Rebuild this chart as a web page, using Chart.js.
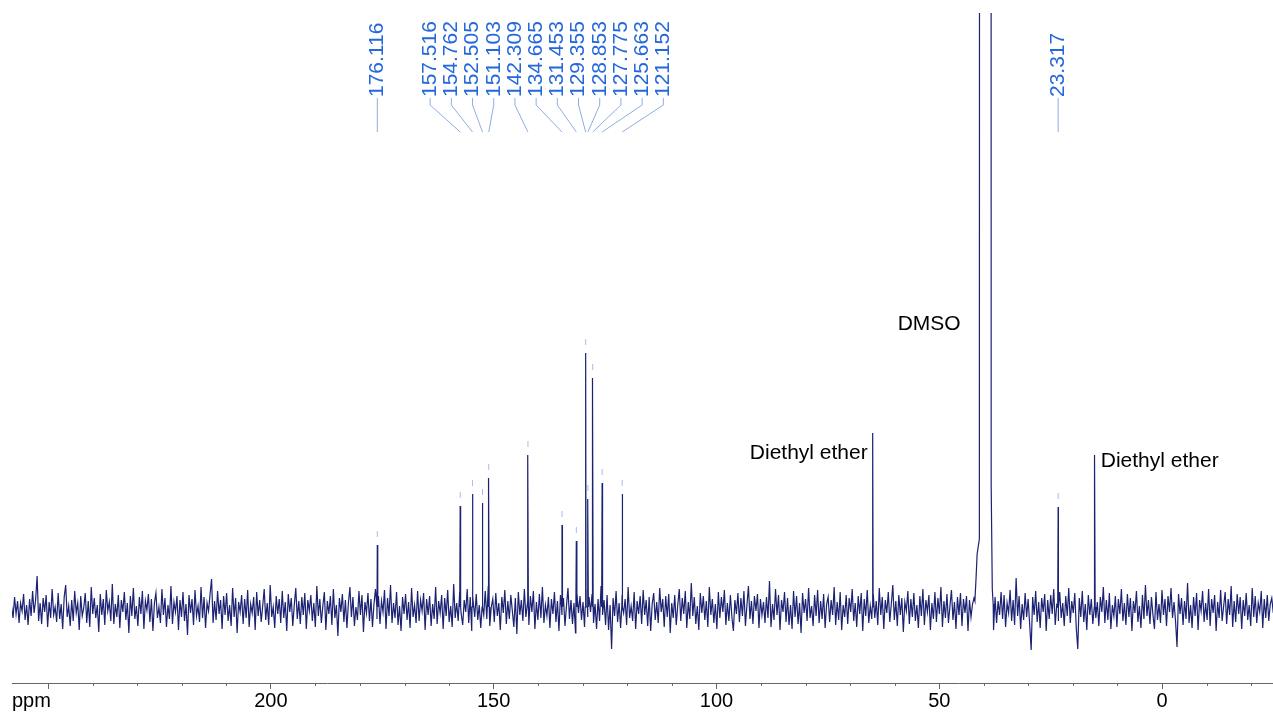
<!DOCTYPE html>
<html lang="en">
<head>
    <meta charset="UTF-8">
    <title>13C NMR spectrum</title>
    <script src="https://cdn.jsdelivr.net/npm/chart.js"></script>
    <style>
        html, body {
            margin: 0;
            padding: 0;
            background: #ffffff;
        }

        .chart-container {
            width: 1273px;
            height: 713px;
            position: relative;
        }
    </style>
</head>
<body>

<div class="chart-container">
    <canvas id="nmrChart"></canvas>
</div>

<script>
    // Peaks (ppm) and their heights above the baseline
    const peakPpm = [176.116, 157.516, 154.762, 152.505, 151.103, 142.309, 134.665, 131.453,
                     129.355, 128.853, 127.775, 125.663, 121.152, 64.94, 23.317, 15.11];
    const peakHeight = [64, 103, 115, 106, 131, 154, 84, 68,
                        256, 110, 231, 126, 115, 176, 102, 154];
    // peak pick labels (empty = not labelled)
    const peakLabels = ['176.116', '157.516', '154.762', '152.505', '151.103', '142.309', '134.665', '131.453',
                        '129.355', '128.853', '127.775', '125.663', '121.152', '', '23.317', ''];

    // DMSO solvent signal (goes off the top)
    const dmsoPpm = [42.0, 41.75, 41.5, 41.0, 40.85, 38.4, 38.35, 38.1, 37.9];
    const dmsoInt = [8, 30, 55, 70, 3000, 3000, 125, 20, 5];

    // baseline noise, one sample every noiseStep ppm from noiseStart
    const noiseStart = 258.2;
    const noiseStep = 0.3375;
    const noise = [
        3, -9, 12, -5, 8, -14, 6, -2, 15, -11, 4, -16, 10, -7, 18, -4, 9, 33, -12, 6,
        -15, 11, -3, 14, -18, 7, -9, 20, -6, 2, -13, 16, -10, 5, -20, 12, 24, -8, 3, -17,
        9, -12, 18, -4, 6, -21, 13, -7, 1, 16, -14, 8, -18, 22, -5, 11, -9, 4, -23, 15,
        -6, 10, -16, 19, -2, 7, -12, 25, -15, 5, -8, 14, -19, 9, -3, 17, -11, 6, -24, 13,
        -7, 21, -10, 3, -17, 12, -5, 18, -20, 8, -1, 15, -13, 10, -22, 6, 16, -9, 2, -14,
        20, -6, 11, -18, 4, -10, 23, -15, 7, -3, 13, -21, 9, -8, 17, -12, 5, -26, 14, -4,
        10, -16, 19, -7, 3, -13, 22, -9, 12, -19, 6, -2, 15, 30, -14, 8, -11, 18, -5, 9,
        -20, 13, -6, 16, -12, 4, -17, 21, -8, 11, -24, 7, -3, 14, -15, 10, -9, 19, -18, 5,
        -4, 12, -21, 17, -7, 9, -13, 3, 20, -11, 6, -16, 24, -8, 2, -19, 13, -5, 10, -14,
        18, -9, 7, -22, 15, -3, 11, -17, 4, 21, -10, 8, -15, 12, -6, 16, -20, 9, -2, 14,
        -12, 6, -18, 23, -7, 10, -14, 3, 17, -21, 8, -5, 13, -16, 20, -9, 4, -27, 11, -3,
        15, -13, 9, -19, 6, 22, -8, 12, -17, 2, -11, 18, -6, 14, -23, 7, -4, 16, -12, 10,
        -18, 5, 20, -10, 13, -15, 8, -3, 19, -20, 11, -7, 24, -14, 6, -9, 17, -16, 3, -22,
        12, -5, 15, -11, 7, -19, 21, -8, 4, -14, 18, -12, 9, -2, 16, -21, 10, -6, 13, -17,
        5, -10, 22, -15, 8, -4, 14, -20, 11, -7, 19, -13, 3, -18, 25, -9, 6, -12, 17, -5,
        -16, 9, -3, 20, -14, 12, -22, 7, -8, 15, -11, 4, -19, 13, -6, 18, -10, 23, -17, 2,
        10, -13, 16, -7, 6, -21, 12, -4, 19, -15, 8, -10, 14, -2, -18, 11, -25, 17, -6, 9,
        -12, 20, -8, 5, -16, 13, -3, 18, -20, 7, -11, 15, -9, 22, -14, 4, -7, 12, -19, 10,
        -5, 17, -13, 8, -22, 14, -6, 11, -17, 3, 21, -10, 9, -15, 6, -24, 16, -4, 13, -11,
        7, -18, 19, -8, 12, -3, 15, -14, 5, -20, 10, -12, 23, -6, 9, -16, 14, -21, 4, -40,
        11, -7, 18, -13, 6, -19, 14, -4, 10, -16, 22, -9, 3, -12, 17, -20, 8, -5, 13, -15,
        19, -6, 9, -17, 12, -22, 5, 16, -11, 7, -14, 21, -3, 10, -18, 13, -8, 15, -24, 6,
        -9, 14, -16, 4, 20, -12, 11, -5, 18, -19, 7, -10, 26, -7, 12, -15, 3, -21, 16, -4,
        13, -11, 8, -18, 22, -6, 10, -14, 5, -20, 17, -9, 12, -3, 19, -16, 6, -12, 14, -8,
        -22, 9, -5, 16, -13, 11, -7, 18, -17, 4, 23, -10, 8, -15, 13, -2, 15, -19, 10, -6,
        7, -14, 12, -9, 28, -18, 5, -11, 20, -6, 14, -21, 9, -3, 17, -13, 11, -16, 4, -20,
        18, -8, 13, -15, 6, -24, 16, -4, 10, -12, 21, -9, 3, -17, 14, -7, 19, -14, 8, -10,
        15, -19, 5, 12, -13, 9, -6, 22, -16, 7, -11, 17, -21, 4, -8, 14, -15, 11, -3, 20,
        -12, 6, -18, 13, -5, 16, -22, 10, -7, 19, -14, 3, -10, 15, -9, 8, -16, 21, -6, 12,
        -20, 9, -4, 17, -13, 5, 24, -11, 8, -17, 14, -6, 11, -23, 7, -2, 18, -15, 10, -8,
        16, -12, 4, -19, 13, -7, 20, -16, 9, -3, 14, -21, 6, -10, 17, -13, 11, -5, 22, -18,
        8, -9, 15, -14, 3, 19, -11, 7, -20, 12, -6, 16, -17, 10, -4, 13, -22, 9, -8, 5,
        11, 0, 0, 0, 0, 0, 0, 0, 0, 0, 0, 0, 0, -21, 12, -14, 8, -6, 17, -10,
        14, -18, 6, -4, 19, -12, 9, -16, 31, -7, 13, -20, 5, -11, 16, -8, 10, -15, -41, 12,
        -6, 18, -13, 7, -19, 11, -3, 15, -22, 9, -10, 14, -5, 20, -16, 4, -12, 17, -9, 6,
        -17, 13, -7, 21, -14, 8, -4, 16, -19, -40, 11, -8, 18, -13, 5, -21, 14, -6, 10, -15,
        19, -9, 7, -17, 12, -3, 22, -14, 9, -11, 16, -20, 4, -7, 13, -18, 10, -5, 20, -12,
        6, -16, 15, -8, 11, -22, 8, -4, 18, -13, 3, -19, 14, -10, 24, -7, 9, -15, 12, -6,
        -20, 17, -11, 5, -14, 19, -6, 10, -17, 13, -3, 21, -9, 7, -12, -38, 15, -5, 11, -16,
        8, -10, 26, -14, 4, -19, 12, -7, 16, -21, 9, -2, 18, -13, 6, -11, 20, -17, 10, -4,
        14, -22, 7, -9, 19, -12, 3, 17, -15, 10, -6, 23, -18, 8, -13, 15, -5, 12, -20, 9,
        -7, 16, -11, 4, -17, 21, -8, 13, -14, 6, -3, 18, -19, 10, -9, 14, -12, 5, 11, -4
    ];

    // axis
    const ppmMin = -24.9;
    const ppmMax = 258.1;
    const majorStep = 50;
    const minorStep = 10;

    const FONT = "'Liberation Sans', Arial, Helvetica, sans-serif";

    // build the trace
    const points = [];
    noise.forEach((v, i) => {
        const x = noiseStart - i * noiseStep;
        if (x > 37.85 && x < 42.05) return;   // DMSO region
        points.push({ x: x, y: v });
    });
    dmsoPpm.forEach((p, i) => points.push({ x: p, y: dmsoInt[i] }));
    peakPpm.forEach((p, i) => {
        points.push({ x: p + 0.1, y: 2 });
        points.push({ x: p, y: peakHeight[i] });
        points.push({ x: p - 0.1, y: 2 });
    });
    points.sort((a, b) => b.x - a.x);

    // annotation plugin: peak labels, minor ticks, texts
    const nmrDecor = {
        id: 'nmrDecor',
        afterDatasetsDraw(chart) {
            const ctx = chart.ctx;
            const xs = chart.scales.x;
            const ys = chart.scales.y;
            const area = chart.chartArea;

            // minor ticks
            ctx.save();
            ctx.strokeStyle = '#666';
            ctx.lineWidth = 1;
            for (let v = Math.ceil(ppmMin / minorStep) * minorStep; v <= ppmMax; v += minorStep) {
                if (v % majorStep === 0) continue;
                const px = Math.round(xs.getPixelForValue(v)) + 0.5;
                ctx.beginPath();
                ctx.moveTo(px, area.bottom);
                ctx.lineTo(px, area.bottom + 3);
                ctx.stroke();
            }
            ctx.restore();

            // peak labels, spread so they don't overlap
            const gap = 21.2;
            let groups = [];
            peakPpm.forEach((p, i) => {
                if (!peakLabels[i]) return;
                groups.push({ items: [{ i: i, px: xs.getPixelForValue(p) }] });
            });
            groups.sort((a, b) => a.items[0].px - b.items[0].px);
            const place = g => {
                const n = g.items.length;
                const c = g.items.reduce((s, it) => s + it.px, 0) / n;
                g.items.forEach((it, k) => { it.lx = c + (k - (n - 1) / 2) * gap; });
            };
            groups.forEach(place);
            let merged = true;
            while (merged) {
                merged = false;
                for (let k = 0; k < groups.length - 1; k++) {
                    const a = groups[k], b = groups[k + 1];
                    if (a.items[a.items.length - 1].lx + gap > b.items[0].lx) {
                        a.items = a.items.concat(b.items);
                        groups.splice(k + 1, 1);
                        place(a);
                        merged = true;
                        break;
                    }
                }
            }

            ctx.save();
            ctx.font = '21px ' + FONT;
            ctx.textAlign = 'left';
            ctx.textBaseline = 'middle';
            groups.forEach(g => g.items.forEach(it => {
                const i = it.i;
                // leader line
                ctx.strokeStyle = '#8eaee2';
                ctx.lineWidth = 1;
                ctx.beginPath();
                ctx.moveTo(it.lx, 98);
                ctx.lineTo(it.lx, 105);
                ctx.lineTo(it.px, 132);
                ctx.stroke();
                // small mark above the peak
                const top = ys.getPixelForValue(peakHeight[i]);
                ctx.strokeStyle = '#a3c0ec';
                ctx.beginPath();
                ctx.moveTo(it.px, top - 14);
                ctx.lineTo(it.px, top - 8);
                ctx.stroke();
                // rotated text
                ctx.save();
                ctx.translate(it.lx, 97);
                ctx.rotate(-Math.PI / 2);
                ctx.fillStyle = '#2468dc';
                ctx.fillText(peakLabels[i], 0, 0);
                ctx.restore();
            }));
            ctx.restore();

            // solvent texts
            ctx.save();
            ctx.font = '21px ' + FONT;
            ctx.fillStyle = '#000';
            ctx.textBaseline = 'middle';
            ctx.textAlign = 'right';
            ctx.fillText('DMSO', xs.getPixelForValue(45.19), ys.getPixelForValue(285));
            ctx.fillText('Diethyl ether', xs.getPixelForValue(66.06), ys.getPixelForValue(156));
            ctx.textAlign = 'left';
            ctx.fillText('Diethyl ether', xs.getPixelForValue(13.76), ys.getPixelForValue(148));
            // unit label
            ctx.font = '20px ' + FONT;
            ctx.fillText('ppm', 12, 701);
            ctx.restore();
        }
    };

    const ctx = document.getElementById('nmrChart').getContext('2d');
    const nmrChart = new Chart(ctx, {
        type: 'line',
        data: {
            datasets: [{
                data: points,
                borderColor: '#1b2272',
                borderWidth: 1.2,
                pointRadius: 0,
                tension: 0,
                fill: false
            }]
        },
        options: {
            responsive: true,
            maintainAspectRatio: false,
            animation: false,
            layout: {
                padding: { left: 12, right: 0, top: 13, bottom: 0 }
            },
            plugins: {
                legend: { display: false },
                tooltip: { enabled: false }
            },
            scales: {
                x: {
                    type: 'linear',
                    reverse: true,
                    min: ppmMin,
                    max: ppmMax,
                    border: { display: true, color: '#666', width: 1 },
                    grid: {
                        drawOnChartArea: false,
                        drawTicks: true,
                        tickLength: 6,
                        tickColor: '#666'
                    },
                    ticks: {
                        stepSize: majorStep,
                        includeBounds: false,
                        autoSkip: false,
                        maxRotation: 0,
                        padding: 0,
                        color: '#000',
                        font: { size: 20, family: FONT },
                        callback: v => (v === 250 ? '' : v)
                    }
                },
                y: {
                    display: false,
                    min: -74,
                    max: 596
                }
            }
        },
        plugins: [nmrDecor]
    });
</script>

</body>
</html>
